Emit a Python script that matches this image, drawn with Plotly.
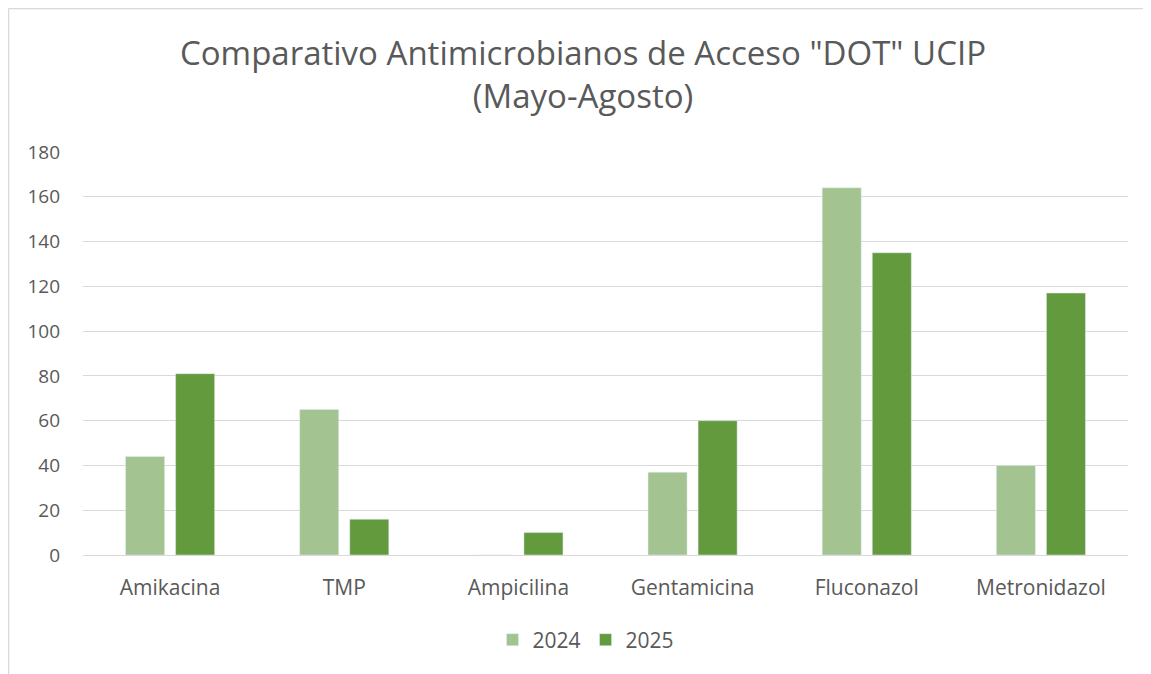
import plotly.graph_objects as go

# Datos
categorias = ['Amikacina', 'TMP', 'Ampicilina', 'Gentamicina', 'Fluconazol', 'Metronidazol']
valores_2024 = [44, 65, 0, 37, 164, 40]
valores_2025 = [81, 16, 10, 60, 135, 117]
y_ticks = [0, 20, 40, 60, 80, 100, 120, 140, 160, 180]

font_family = 'Open Sans, Noto Sans, sans-serif'
text_color = '#595959'

# la pagina tiene 8px de margen en el body
W, H = 1143, 666
ml, mr, mt, mb = 75, 23, 144, 119
pw, ph = W - ml - mr, H - mt - mb

fig = go.Figure()
fig.add_trace(go.Bar(x=categorias, y=valores_2024, name='2024',
                     marker=dict(color='#a3c490')))
fig.add_trace(go.Bar(x=categorias, y=valores_2025, name='2025',
                     marker=dict(color='#649a3e')))

fig.update_layout(
    width=W,
    height=H,
    margin=dict(l=ml, r=mr, t=mt, b=mb, autoexpand=False),
    paper_bgcolor='white',
    plot_bgcolor='white',
    font=dict(family=font_family, color=text_color, size=19),
    title=dict(
        text='Comparativo Antimicrobianos de Acceso "DOT" UCIP<br>(Mayo-Agosto)',
        x=(583 - 8) / W, xanchor='center', xref='container',
        y=1 - 57 / H, yanchor='top',
        font=dict(size=33, color=text_color, family=font_family),
    ),
    barmode='group',
    bargap=0.425,
    bargroupgap=0.22,
    showlegend=True,
    legend=dict(orientation='h', xref='container', x=(586 - 8) / W, xanchor='center',
                y=-(640 - 555) / ph, yanchor='middle',
                font=dict(size=21), traceorder='normal', itemwidth=30),
    xaxis=dict(showgrid=False, showline=True, linecolor='#d9d9d9', linewidth=1,
               ticks='', tickfont=dict(size=21), ticklabelstandoff=14),
    yaxis=dict(range=[0, 180], tickvals=y_ticks, showgrid=True, gridcolor='#d9d9d9',
               gridwidth=1, zeroline=False, showline=False, ticks='',
               ticklabelstandoff=22, tickfont=dict(size=19)),
)

# borde izquierdo y superior del marco
left_x = (0.5 - ml) / pw
top_y = 1 + (mt - 0.5) / ph
fig.add_shape(type='line', xref='paper', yref='paper',
              x0=left_x, x1=left_x, y0=-(mb + 10) / ph, y1=top_y,
              line=dict(color='#d9d9d9', width=1.5), layer='below')
fig.add_shape(type='line', xref='paper', yref='paper',
              x0=left_x, x1=(W + 10 - ml) / pw, y0=top_y, y1=top_y,
              line=dict(color='#d9d9d9', width=1.5), layer='below')

fig.write_html('out.html')
